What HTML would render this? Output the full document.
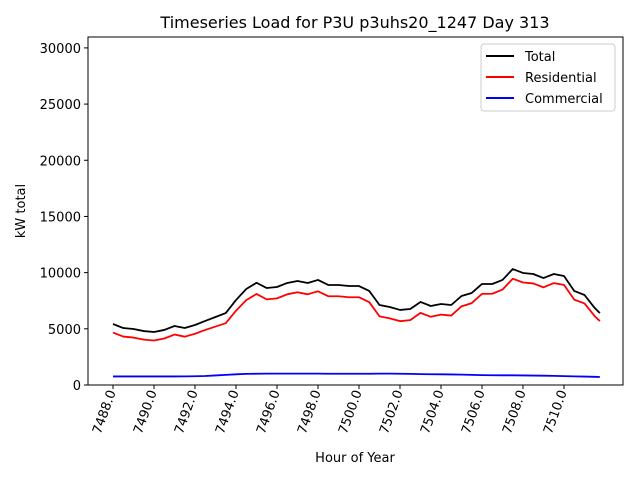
<!DOCTYPE html>
<html><head><meta charset="utf-8"><style>
body{margin:0;background:#fff;}
svg{font-family:"DejaVu Sans","Liberation Sans",sans-serif;}
</style></head><body>
<svg id="chart" width="640" height="480" viewBox="0 0 640 480">
<rect width="640" height="480" fill="#fff"/>
<text x="355" y="28" font-size="16" text-anchor="middle">Timeseries Load for P3U p3uhs20_1247  Day 313</text>
<g id="plot"></g>
<rect x="88" y="37" width="535" height="348" fill="none" stroke="#000" stroke-width="1"/>
<text x="355" y="462" font-size="13" text-anchor="middle">Hour of Year</text>
<text transform="translate(25,211) rotate(-90)" font-size="13" text-anchor="middle">kW total</text>
<g>
<rect x="481" y="44" width="134" height="67" rx="3" fill="#fff" stroke="#ccc"/>
<g><line x1="486" y1="56" x2="514" y2="56" stroke="#000" stroke-width="2"/><text x="525" y="61" font-size="13">Total</text></g>
<g><line x1="486" y1="77" x2="514" y2="77" stroke="#f00" stroke-width="2"/><text x="525" y="82" font-size="13">Residential</text></g>
<g><line x1="486" y1="98" x2="514" y2="98" stroke="#00f" stroke-width="2"/><text x="525" y="103" font-size="13">Commercial</text></g>
</g>
</svg>
<script>
const total=[5430,5070,4980,4800,4720,4900,5250,5070,5340,5700,6050,6400,7560,8540,9100,8630,8720,9080,9260,9080,9350,8900,8900,8810,8810,8370,7120,6940,6680,6760,7390,7030,7210,7120,7920,8190,8990,8990,9350,10320,9970,9880,9520,9880,9700,8370,8010,6850,6400];
const residential=[4670,4310,4220,4040,3960,4140,4490,4300,4560,4900,5200,5500,6610,7550,8100,7620,7710,8070,8250,8070,8340,7900,7900,7810,7810,7370,6110,5930,5680,5770,6420,6070,6260,6180,7000,7290,8110,8120,8490,9460,9120,9040,8690,9070,8910,7600,7260,6120,5690];
const commercial=[760,760,760,760,760,760,760,770,780,800,850,900,950,990,1000,1010,1010,1010,1010,1010,1010,1000,1000,1000,1000,1000,1010,1010,1000,990,970,960,950,940,920,900,880,870,860,860,850,840,830,810,790,770,750,730,710];
const yTicks=[0,5000,10000,15000,20000,25000,30000];
const xTicks=[7488,7490,7492,7494,7496,7498,7500,7502,7504,7506,7508,7510];
const hours=total.map((_,i)=>i<48?7488+i*0.5:7511.75);
const NS='http://www.w3.org/2000/svg';
const g=document.getElementById('plot');
const xs=h=>113+(h-7488)*20.5;
const ys=v=>385-v*(348/30970);
function el(t,a){const e=document.createElementNS(NS,t);for(const k in a)e.setAttribute(k,a[k]);g.appendChild(e);return e;}
yTicks.forEach(v=>{
 const l=el('line',{x1:84,x2:88,y1:ys(v),y2:ys(v),stroke:'#000'});
 
 
 const t=el('text',{x:81,y:ys(v)+5,'font-size':13,'text-anchor':'end'});
 t.textContent=v;
 
 
});
xTicks.forEach(h=>{
 const x=xs(h);
 const l=el('line',{x1:x,x2:x,y1:385,y2:389,stroke:'#000'});
 
 
 const t=el('text',{transform:`translate(${x+3},392) rotate(-70)`,'font-size':13,'text-anchor':'end'});
 t.textContent=h.toFixed(1);
 
 
});
[[total,'#000','total-line'],[residential,'#f00','residential-line'],[commercial,'#00f','commercial-line']].forEach(([d,c,n])=>{
 const p=el('polyline',{points:d.map((v,i)=>xs(hours[i])+','+ys(v)).join(' '),fill:'none',stroke:c,'stroke-width':1.8,'stroke-linejoin':'round'});
 
 
});
</script>
</body></html>
